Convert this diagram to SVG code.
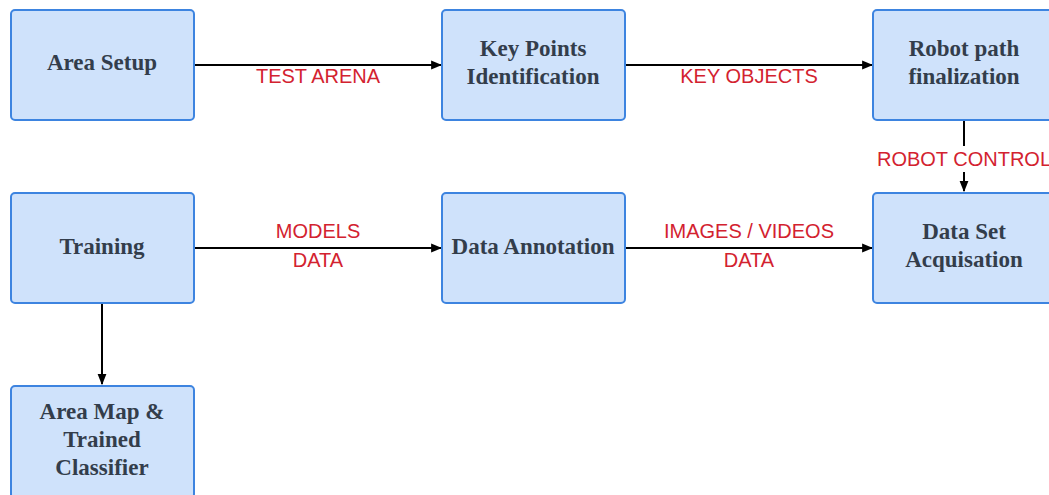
<svg xmlns="http://www.w3.org/2000/svg" width="1049" height="495" viewBox="0 0 1049 495">
<defs>
<style>
.box{fill:#cfe2fb;stroke:#3d84e0;stroke-width:2}
.t{font-family:"Liberation Serif",serif;font-weight:bold;font-size:23px;fill:#333d4b;text-anchor:middle}
.l{font-family:"Liberation Sans",sans-serif;font-size:20px;fill:#d3222f;text-anchor:middle}
.c{stroke:#000;stroke-width:2;fill:none;marker-end:url(#ah)}
</style>
<marker id="ah" viewBox="0 0 10 10" refX="9" refY="5" markerWidth="5.5" markerHeight="5.5" orient="auto" markerUnits="strokeWidth">
<path d="M0,1 L10,5 L0,9 z" fill="#000"/>
</marker>
</defs>
<rect width="1049" height="495" fill="#fff"/>
<g id="connectors">
<path class="c" d="M194,65 H441"/>
<path class="c" d="M625,65 H872"/>
<path class="c" d="M964,120 V191"/>
<path class="c" d="M194,248 H441"/>
<path class="c" d="M625,248 H872"/>
<path class="c" d="M102,303 V384"/>
<text class="l" x="318" y="83">TEST ARENA</text>
<text class="l" x="749" y="83">KEY OBJECTS</text>
<rect x="872" y="146" width="184" height="26" fill="#fff"/>
<text class="l" x="964" y="166">ROBOT CONTROL</text>
<text class="l" x="318" y="238">MODELS</text>
<text class="l" x="318" y="267">DATA</text>
<text class="l" x="749" y="238">IMAGES / VIDEOS</text>
<text class="l" x="749" y="267">DATA</text>
</g>
<g id="area-setup"><rect class="box" x="11" y="10" width="183" height="110" rx="4"/><text class="t" x="102" y="70">Area Setup</text></g>
<g id="key-points"><rect class="box" x="442" y="10" width="183" height="110" rx="4"/><text class="t" x="533" y="56">Key Points</text><text class="t" x="533" y="84">Identification</text></g>
<g id="robot-path"><rect class="box" x="873" y="10" width="183" height="110" rx="4"/><text class="t" x="964" y="56">Robot path</text><text class="t" x="964" y="84">finalization</text></g>
<g id="training"><rect class="box" x="11" y="193" width="183" height="110" rx="4"/><text class="t" x="102" y="254">Training</text></g>
<g id="data-annotation"><rect class="box" x="442" y="193" width="183" height="110" rx="4"/><text class="t" x="533" y="254">Data Annotation</text></g>
<g id="data-set"><rect class="box" x="873" y="193" width="183" height="110" rx="4"/><text class="t" x="964" y="239">Data Set</text><text class="t" x="964" y="267">Acquisation</text></g>
<g id="area-map"><rect class="box" x="11" y="386" width="183" height="112" rx="4"/><text class="t" x="102" y="419">Area Map &amp;</text><text class="t" x="102" y="447">Trained</text><text class="t" x="102" y="475">Classifier</text></g>
</svg>
